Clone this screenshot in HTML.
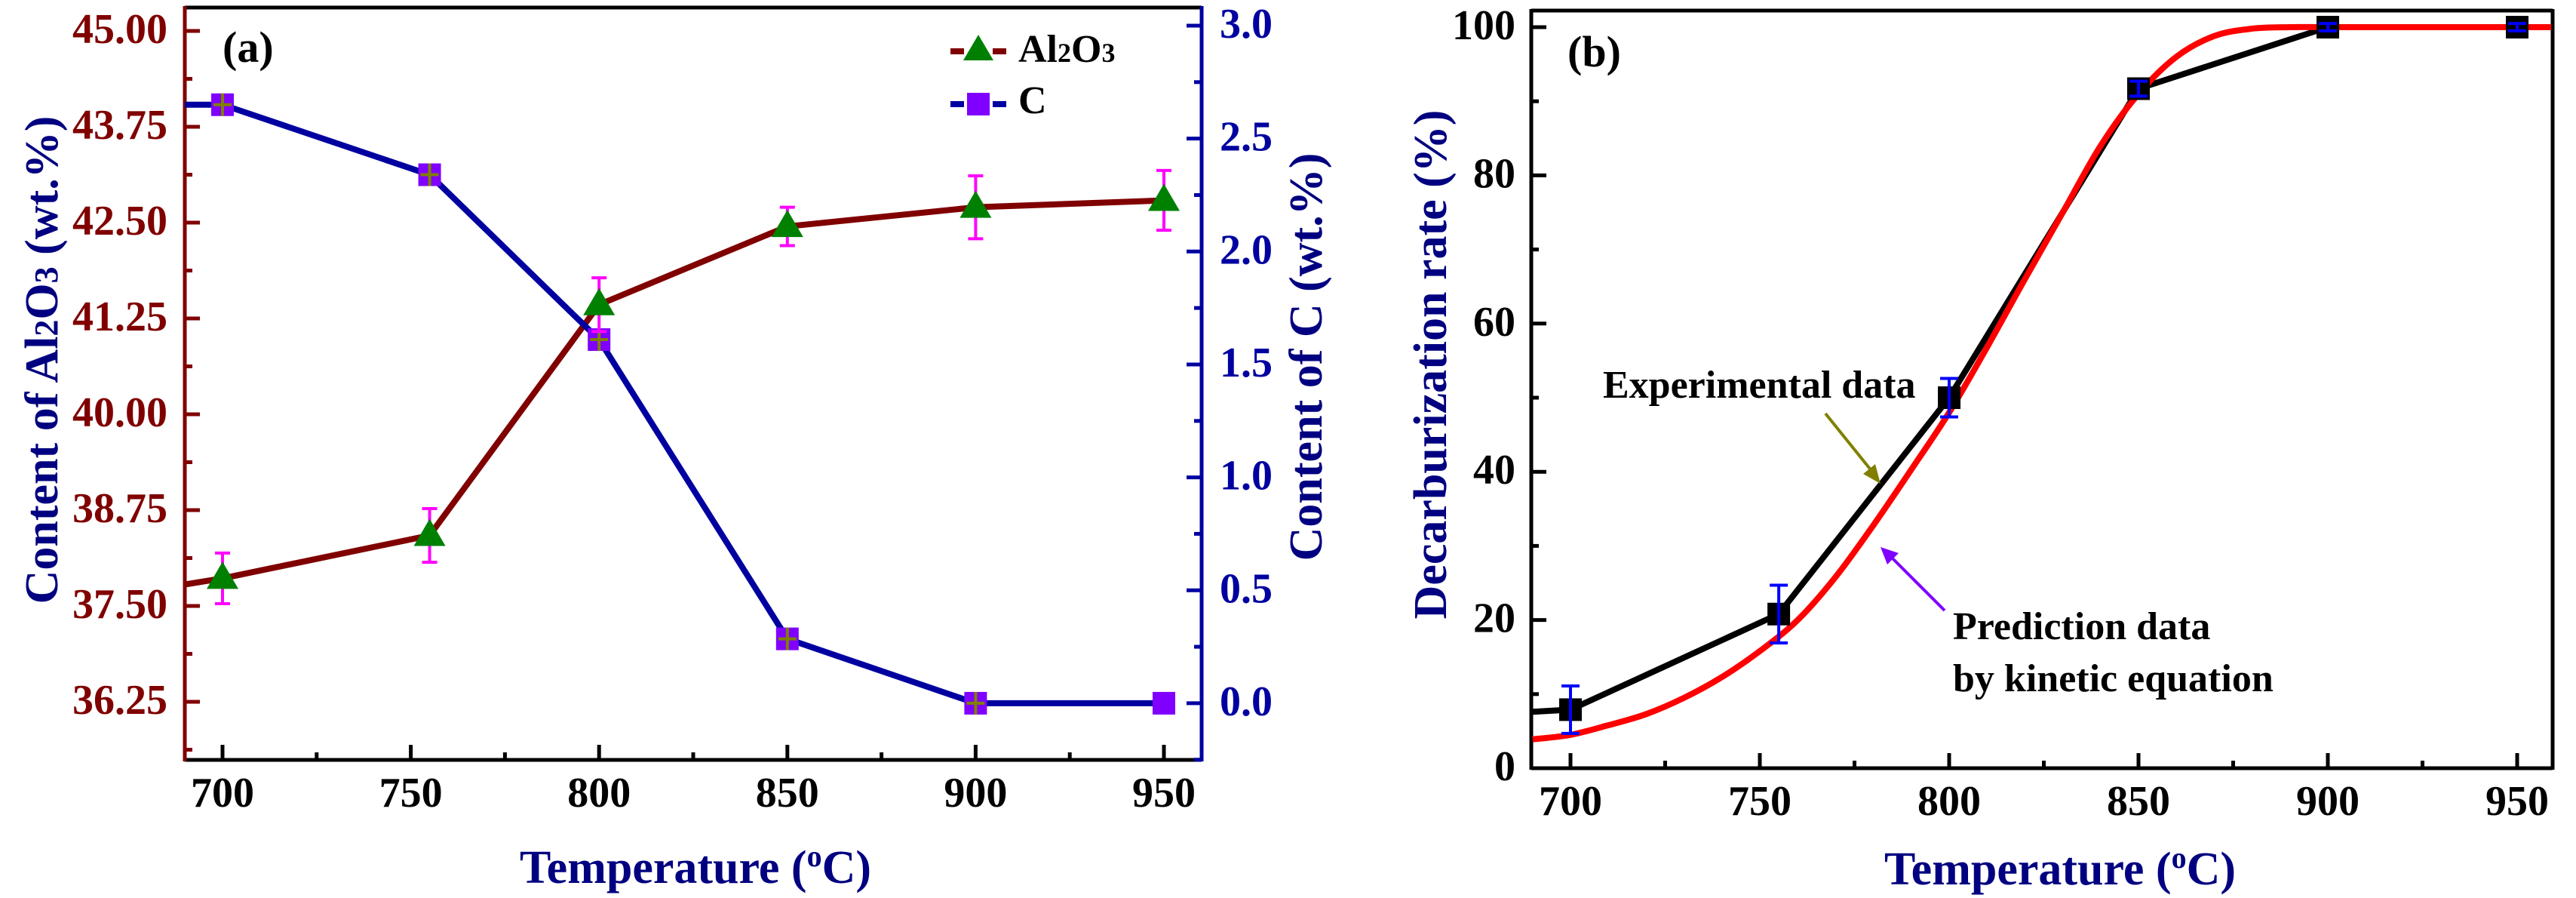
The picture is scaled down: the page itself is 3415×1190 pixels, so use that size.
<!DOCTYPE html>
<html><head><meta charset="utf-8"><style>
html,body{margin:0;padding:0;background:#fff}
svg{display:block;font-family:"Liberation Serif",serif;font-weight:bold}
</style></head><body>
<svg id="fig" width="3415" height="1190" viewBox="0 0 3415 1190" xmlns="http://www.w3.org/2000/svg">
<g id="pa"></g>
<g id="pb"></g>
</svg>
<script>
// Panel (a) data
const tempsA = [700, 755, 800, 850, 900, 950];
const al2o3 = [37.86, 38.42, 41.43, 42.45, 42.70, 42.79];
const al2o3Err = [0.33, 0.35, 0.35, 0.25, 0.41, 0.39];
const carbon = [2.65, 2.34, 1.61, 0.285, 0.0, 0.0];
const carbonErr = [0.05, 0.05, 0.05, 0.05, 0.05, 0.0];
const al2o3Start = 37.78;
const carbonStart = 2.65;
const xTicksA = [700, 750, 800, 850, 900, 950];
const leftTicks = ["36.25", "37.50", "38.75", "40.00", "41.25", "42.50", "43.75", "45.00"];
const rightTicks = ["0.0", "0.5", "1.0", "1.5", "2.0", "2.5", "3.0"];
// Panel (b) data
const tempsB = [700, 755, 800, 850, 900, 950];
const decarb = [7.9, 20.8, 50.0, 91.7, 100, 100];
const decarbErr = [3.2, 3.9, 2.6, 1.0, 0.5, 0.5];
const decarbStart = 7.6;
const predT = [690, 700, 710, 720, 730, 740, 750, 760, 770, 780, 790, 800, 810, 820, 830, 840, 850, 860, 870, 880, 890, 900, 920, 940, 959];
const predV = [3.9, 4.5, 5.8, 7.3, 9.5, 12.3, 15.8, 20.0, 25.8, 32.8, 40.3, 48.0, 56.8, 66, 75, 84, 91, 96, 98.8, 99.8, 100, 100, 100, 100, 100];
const yTicksB = ["0", "20", "40", "60", "80", "100"];

const NS = "http://www.w3.org/2000/svg";
function mk(parent, tag, attrs, text) {
  const e = document.createElementNS(NS, tag);
  for (const k in attrs) e.setAttribute(k, attrs[k]);
  if (text !== undefined) e.textContent = text;
  parent.appendChild(e);
  return e;
}
const pa = document.getElementById('pa');
const pb = document.getElementById('pb');

const xA = v => 295 + (v - 700) * 4.992;
const yL = v => 41 + (45 - v) * 101.6;
const yR = v => 34 + (3 - v) * 299.3;
const A = {l: 245, r: 1593, t: 10, b: 1007};
const xB = v => 2082 + (v - 700) * 5.02;
const yB = v => 1018 - v * 9.82;
const B = {l: 2030, r: 3384, t: 14, b: 1018};

function line(p, x1, y1, x2, y2, c, w, name) {
  const e = mk(p, 'line', {x1, y1, x2, y2, stroke: c, 'stroke-width': w});
  
  
  return e;
}
function text(p, x, y, s, size, fill, anchor, name) {
  const e = mk(p, 'text', {x, y, 'font-size': size, fill, 'text-anchor': anchor}, s);
  
  
  return e;
}

// ===== Panel a frame
line(pa, A.l, A.t, A.r, A.t, '#000', 5, 'top-axis-a');
line(pa, A.l, A.b, A.r, A.b, '#000', 5, 'x-axis-a');
line(pa, A.l, A.t - 2, A.l, A.b + 2, '#800000', 5, 'left-y-axis-a');
line(pa, A.r, A.t - 2, A.r, A.b + 2, '#0000a0', 5, 'right-y-axis-a');
for (let v = 700; v <= 950; v += 25) {
  const major = v % 50 === 0;
  line(pa, xA(v), A.b, xA(v), A.b - (major ? 20 : 10), '#000', 5, 'x-tick-a');
}
xTicksA.forEach(t => text(pa, xA(t), 1069, String(t), 56, '#000', 'middle', 'x-tick-label-a'));
leftTicks.forEach(t => {
  const v = parseFloat(t);
  line(pa, A.l, yL(v), A.l + 20, yL(v), '#800000', 5, 'left-y-tick');
  text(pa, 222, yL(v) + 16, t, 56, '#800000', 'end', 'left-y-tick-label');
});
for (let i = 0; i < 8; i++) { const v = 35.625 + i * 1.25; if (yL(v) < A.b && yL(v) > A.t) line(pa, A.l, yL(v), A.l + 10, yL(v), '#800000', 5, 'left-y-minor-tick'); }
rightTicks.forEach(t => {
  const v = parseFloat(t);
  line(pa, A.r, yR(v), A.r - 20, yR(v), '#0000a0', 5, 'right-y-tick');
  text(pa, 1617, yR(v) + 16, t, 56, '#0000a0', 'start', 'right-y-tick-label');
});
for (let v = -0.25; v < 3; v += 0.5) { if (yR(v) < A.b) line(pa, A.r, yR(v), A.r - 10, yR(v), '#0000a0', 5, 'right-y-minor-tick'); }

const tA = text(pa, 922, 1170, '', 62, '#000080', 'middle', 'x-axis-title-a');
tA.innerHTML = 'Temperature (<tspan dy="-22" font-size="40">o</tspan><tspan dy="22">C)</tspan>';
const lt = text(pa, 0, 0, '', 62, '#000080', 'middle', 'left-y-axis-title');
lt.setAttribute('transform', 'translate(76,477) rotate(-90)');
lt.innerHTML = 'Content of Al<tspan font-size="44">2</tspan>O<tspan font-size="44">3</tspan> (wt.%)';
const rt = text(pa, 0, 0, 'Content of C (wt.%)', 62, '#000080', 'middle', 'right-y-axis-title');
rt.setAttribute('transform', 'translate(1752,473) rotate(-90)');
text(pa, 295, 82, '(a)', 58, '#000', 'start', 'panel-label-a');

let ptsAl = [[A.l, yL(al2o3Start)]].concat(tempsA.map((t, i) => [xA(t), yL(al2o3[i])]));
let pl = mk(pa, 'polyline', {points: ptsAl.map(p => p.join(',')).join(' '), fill: 'none', stroke: '#800000', 'stroke-width': 8, 'stroke-linejoin': 'round'});


let ptsC = [[A.l, yR(carbonStart)]].concat(tempsA.map((t, i) => [xA(t), yR(carbon[i])]));
pl = mk(pa, 'polyline', {points: ptsC.map(p => p.join(',')).join(' '), fill: 'none', stroke: '#0000a0', 'stroke-width': 8, 'stroke-linejoin': 'round'});



function errbar(p, x, y1, y2, c, w, name) {
  line(p, x, y1, x, y2, c, 4, name);
  line(p, x - w, y1, x + w, y1, c, 4, name);
  line(p, x - w, y2, x + w, y2, c, 4, name);
}
tempsA.forEach((t, i) => {
  const x = xA(t), y = yR(carbon[i]);
  const s = mk(pa, 'rect', {x: x - 15, y: y - 15, width: 30, height: 30, fill: '#8000ff'});
  
  
  if (carbonErr[i] > 0) {
    line(pa, x, yR(carbon[i] + carbonErr[i]), x, yR(carbon[i] - carbonErr[i]), '#808000', 4, 'carbon-error-bar');
    line(pa, x - 12, y, x + 12, y, '#808000', 4, 'carbon-error-bar');
  }
});
tempsA.forEach((t, i) => {
  const x = xA(t), y = yL(al2o3[i]);
  errbar(pa, x, yL(al2o3[i] + al2o3Err[i]), yL(al2o3[i] - al2o3Err[i]), '#ff00ff', 10, 'al2o3-error-bar');
  const tr = mk(pa, 'polygon', {points: `${x},${y - 22} ${x - 21},${y + 14} ${x + 21},${y + 14}`, fill: '#008000'});
  
  
});
const lg = mk(pa, 'g', {});


line(lg, 1260, 68, 1278, 68, '#800000', 8, 'legend-al2o3-line');
line(lg, 1316, 68, 1334, 68, '#800000', 8, 'legend-al2o3-line');
let lm = mk(lg, 'polygon', {points: '1297,46 1277,80 1317,80', fill: '#008000'});


const la = text(lg, 1350, 82, '', 52, '#000', 'start', 'legend-al2o3-label');
la.innerHTML = 'Al<tspan font-size="36">2</tspan>O<tspan font-size="36">3</tspan>';
line(lg, 1260, 138, 1278, 138, '#0000a0', 8, 'legend-c-line');
line(lg, 1316, 138, 1334, 138, '#0000a0', 8, 'legend-c-line');
lm = mk(lg, 'rect', {x: 1282, y: 123, width: 30, height: 30, fill: '#8000ff'});


text(lg, 1350, 150, 'C', 52, '#000', 'start', 'legend-c-label');

// ===== Panel b
line(pb, B.l, B.t, B.r, B.t, '#000', 5, 'top-axis-b');
line(pb, B.l, B.b, B.r, B.b, '#000', 5, 'x-axis-b');
line(pb, B.l, B.t - 2, B.l, B.b + 2, '#000', 5, 'y-axis-b');
line(pb, B.r, B.t - 2, B.r, B.b + 2, '#000', 5, 'right-axis-b');
for (let v = 700; v <= 950; v += 25) {
  const major = v % 50 === 0;
  line(pb, xB(v), B.b, xB(v), B.b - (major ? 20 : 10), '#000', 5, 'x-tick-b');
}
xTicksA.forEach(t => text(pb, xB(t), 1080, String(t), 56, '#000', 'middle', 'x-tick-label-b'));
for (let v = 10; v <= 100; v += 10) line(pb, B.l, yB(v), B.l + (v % 20 === 0 ? 20 : 10), yB(v), '#000', 5, 'y-tick-b');
yTicksB.forEach(t => text(pb, 2009, yB(parseFloat(t)) + 16, t, 56, '#000', 'end', 'y-tick-label-b'));
const tB = text(pb, 2731, 1172, '', 62, '#000080', 'middle', 'x-axis-title-b');
tB.innerHTML = 'Temperature (<tspan dy="-22" font-size="40">o</tspan><tspan dy="22">C)</tspan>';
const yt = text(pb, 0, 0, 'Decarburization rate (%)', 62, '#000080', 'middle', 'y-axis-title-b');
yt.setAttribute('transform', 'translate(1917,483) rotate(-90)');
text(pb, 2078, 88, '(b)', 58, '#000', 'start', 'panel-label-b');

let ptsE = [[B.l, yB(decarbStart)]].concat(tempsB.map((t, i) => [xB(t), yB(decarb[i])]));
pl = mk(pb, 'polyline', {points: ptsE.map(p => p.join(',')).join(' '), fill: 'none', stroke: '#000', 'stroke-width': 8, 'stroke-linejoin': 'round'});


const pp = predT.map((t, i) => [xB(t), yB(predV[i])]);
let d = `M${pp[0][0]},${pp[0][1]}`;
for (let i = 0; i < pp.length - 1; i++) {
  const p0 = pp[Math.max(0, i - 1)], p1 = pp[i], p2 = pp[i + 1], p3 = pp[Math.min(pp.length - 1, i + 2)];
  d += ` C${p1[0] + (p2[0] - p0[0]) / 6},${p1[1] + (p2[1] - p0[1]) / 6} ${p2[0] - (p3[0] - p1[0]) / 6},${p2[1] - (p3[1] - p1[1]) / 6} ${p2[0]},${p2[1]}`;
}
pl = mk(pb, 'path', {d, fill: 'none', stroke: '#ff0000', 'stroke-width': 8});


tempsB.forEach((t, i) => {
  const x = xB(t), y = yB(decarb[i]);
  const s = mk(pb, 'rect', {x: x - 15, y: y - 15, width: 30, height: 30, fill: '#000'});
  
  
  errbar(pb, x, yB(decarb[i] + decarbErr[i]), yB(decarb[i] - decarbErr[i]), '#0000ff', 12, 'experimental-error-bar');
});
text(pb, 2125, 527, 'Experimental data', 52, '#000', 'start', 'experimental-annotation');
text(pb, 2589, 847, 'Prediction data', 52, '#000', 'start', 'prediction-annotation');
text(pb, 2589, 916, 'by kinetic equation', 52, '#000', 'start', 'prediction-annotation-line2');
line(pb, 2420, 548, 2482, 625, '#808000', 4, 'experimental-arrow');
let ah = mk(pb, 'polygon', {points: '2493,641 2470,628 2486,615', fill: '#808000'});


line(pb, 2578, 809, 2506, 737, '#8000ff', 4, 'prediction-arrow');
ah = mk(pb, 'polygon', {points: '2493,725 2517,733 2502,748', fill: '#8000ff'});


</script>
</body></html>
